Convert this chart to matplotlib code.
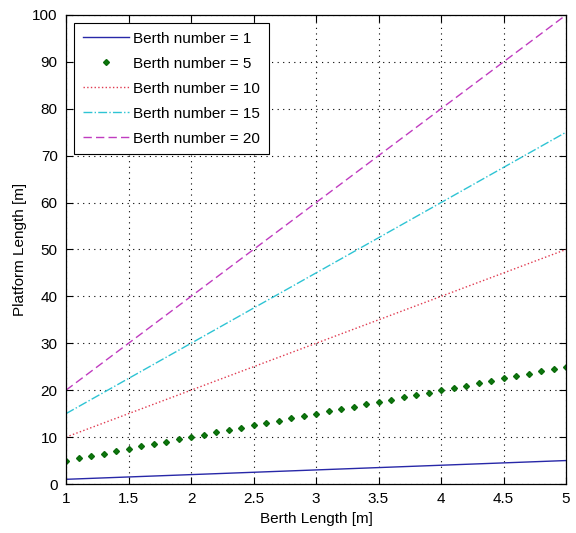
import matplotlib
matplotlib.use('Agg')
import matplotlib.pyplot as plt

plt.rcParams['font.family'] = ['Liberation Sans', 'DejaVu Sans']

# Berth length grid [m]
berth_length = [1.0, 1.1, 1.2, 1.3, 1.4, 1.5, 1.6, 1.7, 1.8, 1.9,
                2.0, 2.1, 2.2, 2.3, 2.4, 2.5, 2.6, 2.7, 2.8, 2.9,
                3.0, 3.1, 3.2, 3.3, 3.4, 3.5, 3.6, 3.7, 3.8, 3.9,
                4.0, 4.1, 4.2, 4.3, 4.4, 4.5, 4.6, 4.7, 4.8, 4.9, 5.0]

# Platform length [m] per berth number
plat_n1 = [1.0, 1.1, 1.2, 1.3, 1.4, 1.5, 1.6, 1.7, 1.8, 1.9,
           2.0, 2.1, 2.2, 2.3, 2.4, 2.5, 2.6, 2.7, 2.8, 2.9,
           3.0, 3.1, 3.2, 3.3, 3.4, 3.5, 3.6, 3.7, 3.8, 3.9,
           4.0, 4.1, 4.2, 4.3, 4.4, 4.5, 4.6, 4.7, 4.8, 4.9, 5.0]
plat_n5 = [5.0, 5.5, 6.0, 6.5, 7.0, 7.5, 8.0, 8.5, 9.0, 9.5,
           10.0, 10.5, 11.0, 11.5, 12.0, 12.5, 13.0, 13.5, 14.0, 14.5,
           15.0, 15.5, 16.0, 16.5, 17.0, 17.5, 18.0, 18.5, 19.0, 19.5,
           20.0, 20.5, 21.0, 21.5, 22.0, 22.5, 23.0, 23.5, 24.0, 24.5, 25.0]
plat_n10 = [10.0, 11.0, 12.0, 13.0, 14.0, 15.0, 16.0, 17.0, 18.0, 19.0,
            20.0, 21.0, 22.0, 23.0, 24.0, 25.0, 26.0, 27.0, 28.0, 29.0,
            30.0, 31.0, 32.0, 33.0, 34.0, 35.0, 36.0, 37.0, 38.0, 39.0,
            40.0, 41.0, 42.0, 43.0, 44.0, 45.0, 46.0, 47.0, 48.0, 49.0, 50.0]
plat_n15 = [15.0, 16.5, 18.0, 19.5, 21.0, 22.5, 24.0, 25.5, 27.0, 28.5,
            30.0, 31.5, 33.0, 34.5, 36.0, 37.5, 39.0, 40.5, 42.0, 43.5,
            45.0, 46.5, 48.0, 49.5, 51.0, 52.5, 54.0, 55.5, 57.0, 58.5,
            60.0, 61.5, 63.0, 64.5, 66.0, 67.5, 69.0, 70.5, 72.0, 73.5, 75.0]
plat_n20 = [20.0, 22.0, 24.0, 26.0, 28.0, 30.0, 32.0, 34.0, 36.0, 38.0,
            40.0, 42.0, 44.0, 46.0, 48.0, 50.0, 52.0, 54.0, 56.0, 58.0,
            60.0, 62.0, 64.0, 66.0, 68.0, 70.0, 72.0, 74.0, 76.0, 78.0,
            80.0, 82.0, 84.0, 86.0, 88.0, 90.0, 92.0, 94.0, 96.0, 98.0, 100.0]

labels = ['Berth number = 1', 'Berth number = 5', 'Berth number = 10',
          'Berth number = 15', 'Berth number = 20']
xticks = [1, 1.5, 2, 2.5, 3, 3.5, 4, 4.5, 5]
xticklabels = ['1', '1.5', '2', '2.5', '3', '3.5', '4', '4.5', '5']
yticks = [0, 10, 20, 30, 40, 50, 60, 70, 80, 90, 100]

fig = plt.figure(figsize=(5.76, 5.33), dpi=100)
ax = fig.add_axes([66/576, 1 - 484/533, 500/576, 469/533])

ax.plot(berth_length, plat_n1, '-', color='#2828a8', lw=1.0, label=labels[0])
ax.plot(berth_length, plat_n5, 'D', color='#0b7a0b', ms=3.0, mec='#0b6a0b',
        ls='none', label=labels[1])
ax.plot(berth_length, plat_n10, ':', color='#e03a50', lw=1.0, label=labels[2])
ax.plot(berth_length, plat_n15, '-.', color='#2ec4d4', lw=1.0, label=labels[3])
ax.plot(berth_length, plat_n20, '--', color='#c03cc0', lw=1.0,
        dashes=(6, 3), label=labels[4])

ax.set_xlim(1, 5)
ax.set_ylim(0, 100)
ax.set_xticks(xticks)
ax.set_xticklabels(xticklabels)
ax.set_yticks(yticks)
ax.tick_params(direction='in', top=True, right=True, length=5, labelsize=11,
               pad=6)
ax.grid(True, color='black', linestyle=(0, (1, 4)), linewidth=0.8)
for s in ax.spines.values():
    s.set_linewidth(0.9)

ax.set_xlabel('Berth Length [m]', fontsize=11, labelpad=4)
ax.set_ylabel('Platform Length [m]', fontsize=11, labelpad=4)

leg = ax.legend(loc='upper left', fontsize=11, handlelength=3.0,
                fancybox=False, framealpha=1, edgecolor='black',
                borderpad=0.55, labelspacing=0.72, handletextpad=0.3,
                borderaxespad=0.55, markerscale=1.0)
leg.get_frame().set_linewidth(0.8)

fig.savefig('out.png', dpi=100)
